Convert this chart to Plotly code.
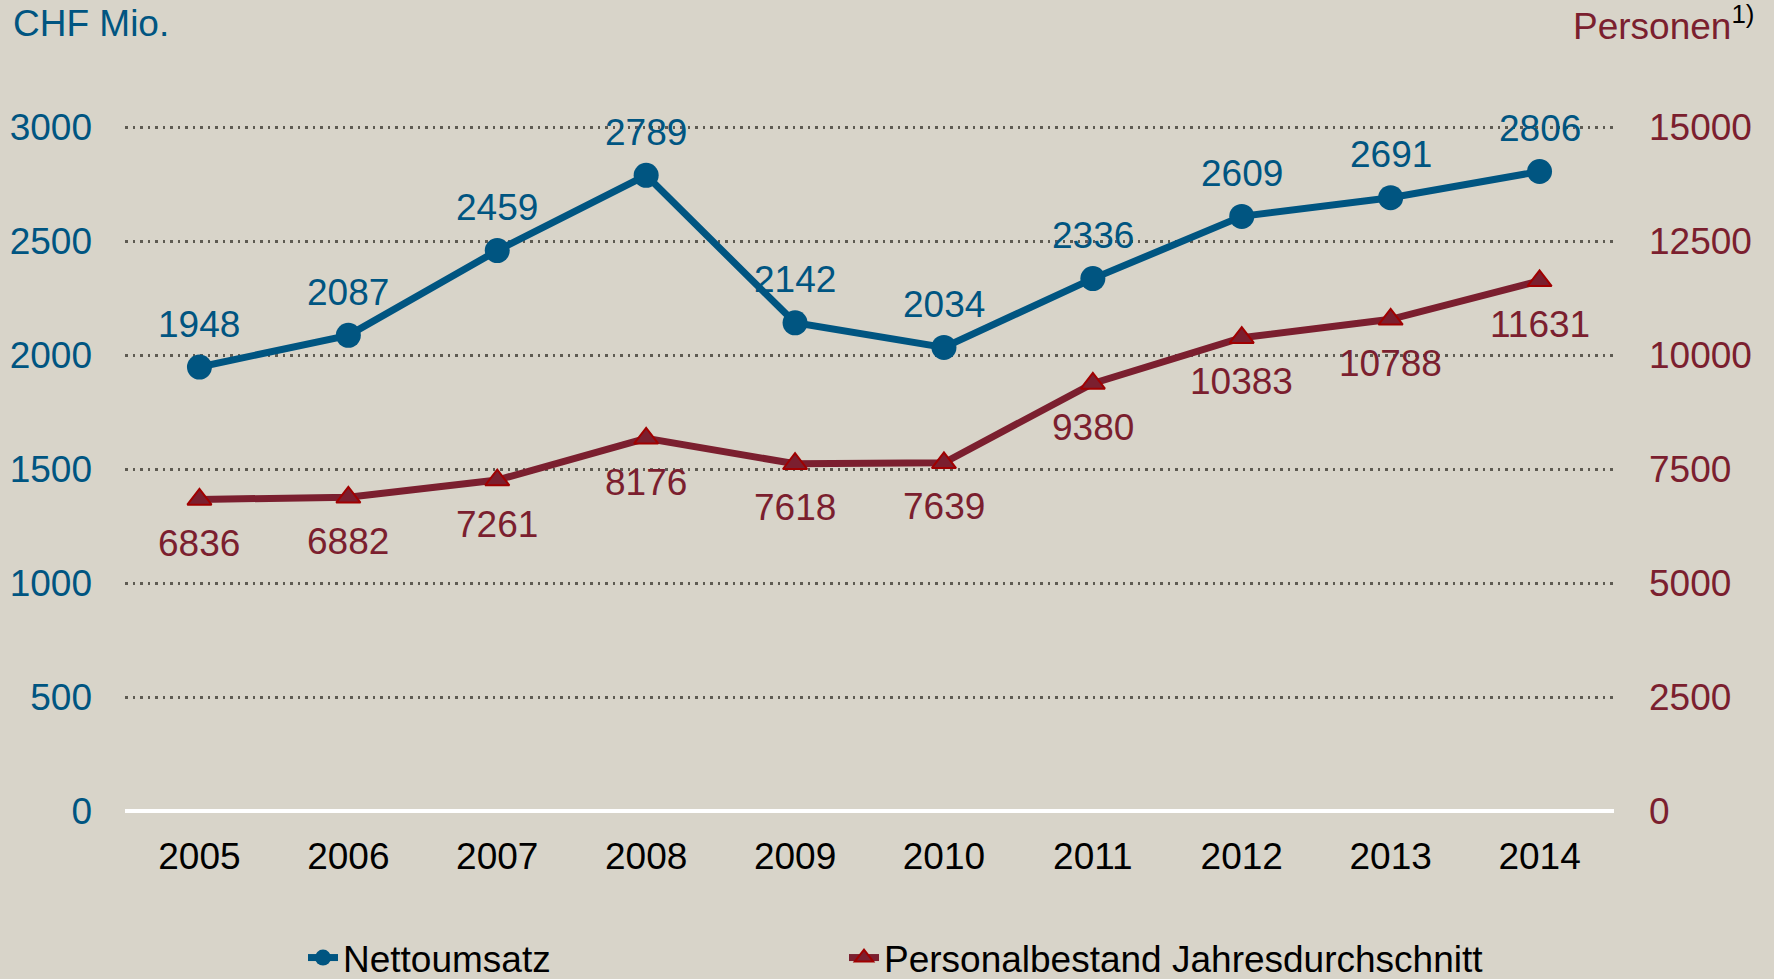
import plotly.graph_objects as go

years = [2005, 2006, 2007, 2008, 2009, 2010, 2011, 2012, 2013, 2014]
umsatz = [1948, 2087, 2459, 2789, 2142, 2034, 2336, 2609, 2691, 2806]
personal = [6836, 6882, 7261, 8176, 7618, 7639, 9380, 10383, 10788, 11631]
left_ticks = [0, 500, 1000, 1500, 2000, 2500, 3000]
right_ticks = [0, 2500, 5000, 7500, 10000, 12500, 15000]

BLUE = "#005581"
RED = "#7B1F2F"
BG = "#D8D4C9"
FONT = "Liberation Sans, Arial, sans-serif"
FS = 37

W, H = 1774, 979
L, R, T, B = 125, 160, 125, 168
PW, PH = W - L - R, H - T - B


def px_x(p):
    return (p - L) / PW


def px_y(p):
    return (H - B - p) / PH


fig = go.Figure()
fig.add_trace(go.Scatter(
    x=years, y=umsatz, name="Nettoumsatz", mode="lines+markers",
    line=dict(color=BLUE, width=7),
    marker=dict(symbol="circle", size=25, color=BLUE),
    yaxis="y", cliponaxis=False, legend="legend",
))
fig.add_trace(go.Scatter(
    x=years, y=personal, name="Personalbestand Jahresdurchschnitt", mode="lines+markers",
    line=dict(color=RED, width=7),
    marker=dict(symbol="triangle-up", size=21, color=RED, line=dict(color="#A00000", width=2)),
    yaxis="y2", cliponaxis=False, legend="legend2",
))

annotations = []
for x, v in zip(years, umsatz):
    annotations.append(dict(x=x, y=v, xref="x", yref="y", text=str(v), showarrow=False,
                            yshift=43, font=dict(color=BLUE, size=FS, family=FONT)))
for x, v in zip(years, personal):
    annotations.append(dict(x=x, y=v, xref="x", yref="y2", text=str(v), showarrow=False,
                            yshift=-44, font=dict(color=RED, size=FS, family=FONT)))
annotations.append(dict(x=px_x(11), y=px_y(24), xref="paper", yref="paper", xanchor="left",
                        yanchor="middle", text="CHF Mio.", showarrow=False,
                        font=dict(color=BLUE, size=FS, family=FONT)))
annotations.append(dict(x=px_x(1756), y=px_y(24), xref="paper", yref="paper", xanchor="right",
                        yanchor="middle", showarrow=False,
                        text='Personen<sup><span style="color:#000000">1)</span></sup>',
                        font=dict(color=RED, size=FS, family=FONT)))

legend_common = dict(orientation="h", xanchor="left", yanchor="middle", y=px_y(958),
                     font=dict(size=FS, color="#000000", family=FONT),
                     bgcolor="rgba(0,0,0,0)", borderwidth=0)

fig.update_layout(
    width=W, height=H,
    paper_bgcolor=BG, plot_bgcolor=BG,
    margin=dict(l=L, r=R, t=T, b=B, autoexpand=False),
    font=dict(family=FONT, size=FS, color="#000000"),
    showlegend=True,
    legend=dict(x=px_x(303), **legend_common),
    legend2=dict(x=px_x(844), **legend_common),
    xaxis=dict(range=[2004.5, 2014.5], tickvals=years, ticktext=[str(y) for y in years],
               showgrid=False, zeroline=False, showline=False, ticks="",
               ticklabelstandoff=20, tickfont=dict(color="#000000", size=FS, family=FONT)),
    yaxis=dict(range=[0, 3010], tickvals=left_ticks, ticktext=[str(t) for t in left_ticks],
               showgrid=True, gridcolor="#5E5B52", gridwidth=2.5, griddash="2.5px,5px",
               zeroline=True, zerolinecolor="#FFFFFF", zerolinewidth=4,
               ticks="", ticklabelstandoff=32, showline=False,
               tickfont=dict(color=BLUE, size=FS, family=FONT)),
    yaxis2=dict(range=[0, 15050], tickvals=right_ticks, ticktext=[str(t) for t in right_ticks],
                overlaying="y", side="right",
                showgrid=False, zeroline=False, ticks="", ticklabelstandoff=34,
                tickfont=dict(color=RED, size=FS, family=FONT)),
    annotations=annotations,
)

fig.write_html("out.html", config={"displayModeBar": False},
               post_script="document.body.style.margin='0';document.body.style.overflow='hidden';")
